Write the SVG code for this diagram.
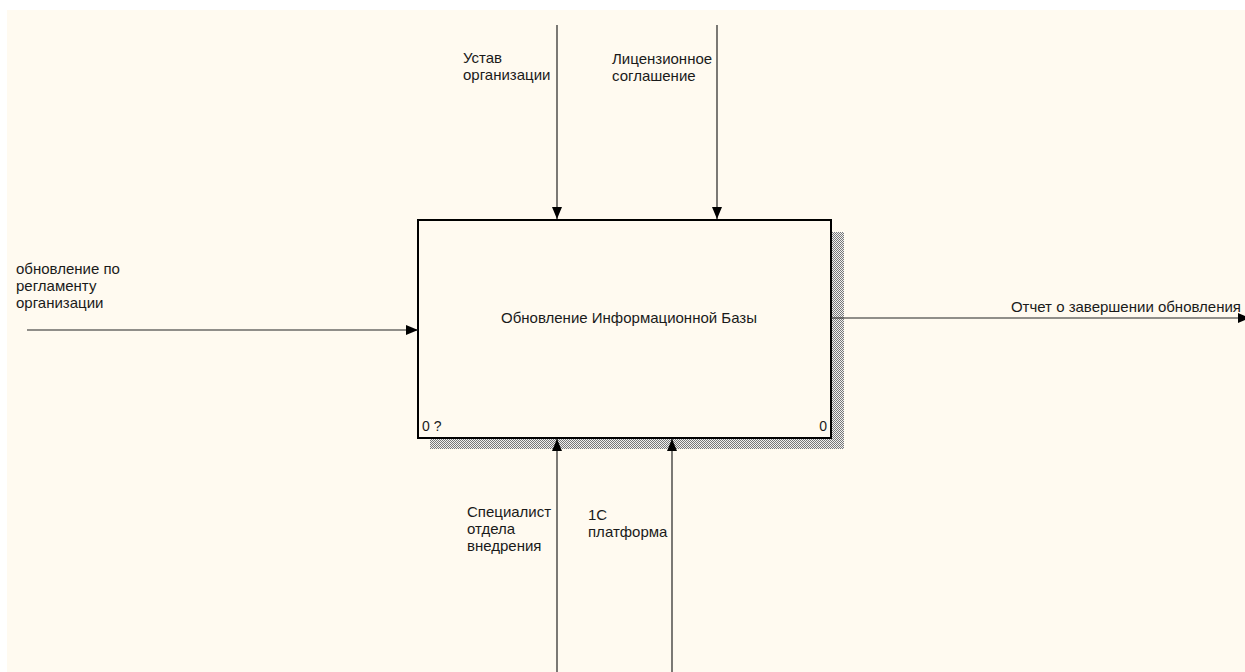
<svg xmlns="http://www.w3.org/2000/svg" width="1245" height="672" viewBox="0 0 1245 672">
  <style>
    text { font-family: "Liberation Sans", Arial, sans-serif; font-size: 15px; fill: #1a1a1a; }
    .conn { stroke: #222; stroke-width: 1.2; fill: none; }
  </style>
  <defs>
    <marker id="arr" viewBox="0 0 12 10" refX="12" refY="5" markerWidth="12" markerHeight="10" markerUnits="userSpaceOnUse" orient="auto">
      <path d="M0,0 L12,5 L0,10 Z" fill="#000"/>
    </marker>
    <pattern id="hatch" width="2" height="2" patternUnits="userSpaceOnUse">
      <rect width="2" height="2" fill="#f0f0f0"/>
      <rect width="1" height="1" fill="#777"/>
      <rect x="1" y="1" width="1" height="1" fill="#777"/>
    </pattern>
  </defs>
  <rect width="1245" height="672" fill="#ffffff"/>
  <rect x="7" y="10" width="1238" height="662" fill="#fffaf0"/>

  <g id="node-main">
    <rect x="430" y="232" width="414" height="217" fill="url(#hatch)"/>
    <rect x="418" y="220" width="413" height="218" fill="#fffaf0" stroke="#000" stroke-width="2"/>
    <text x="629" y="323" text-anchor="middle">Обновление Информационной Базы</text>
    <text x="422" y="431" style="font-size:14px">0 ?</text>
    <text x="827" y="431" text-anchor="end" style="font-size:14px">0</text>
  </g>

  <g id="connectors">
    <line class="conn" x1="27" y1="330" x2="418" y2="330" marker-end="url(#arr)"/>
    <line class="conn" x1="831" y1="318" x2="1250" y2="318" marker-end="url(#arr)"/>
    <line class="conn" x1="557" y1="25" x2="557" y2="219" marker-end="url(#arr)"/>
    <line class="conn" x1="717" y1="25" x2="717" y2="219" marker-end="url(#arr)"/>
    <line class="conn" x1="557" y1="672" x2="557" y2="439" marker-end="url(#arr)"/>
    <line class="conn" x1="672" y1="672" x2="672" y2="439" marker-end="url(#arr)"/>
  </g>

  <g id="label-input">
    <text x="16" y="274">обновление по</text>
    <text x="16" y="291">регламенту</text>
    <text x="16" y="308">организации</text>
  </g>
  <g id="label-output">
    <text x="1241" y="312" text-anchor="end">Отчет о завершении обновления</text>
  </g>
  <g id="label-control1">
    <text x="463" y="63">Устав</text>
    <text x="463" y="80">организации</text>
  </g>
  <g id="label-control2">
    <text x="612" y="64">Лицензионное</text>
    <text x="612" y="81">соглашение</text>
  </g>
  <g id="label-mech1">
    <text x="467" y="517">Специалист</text>
    <text x="467" y="534">отдела</text>
    <text x="467" y="551">внедрения</text>
  </g>
  <g id="label-mech2">
    <text x="588" y="520">1С</text>
    <text x="588" y="537">платформа</text>
  </g>
</svg>
